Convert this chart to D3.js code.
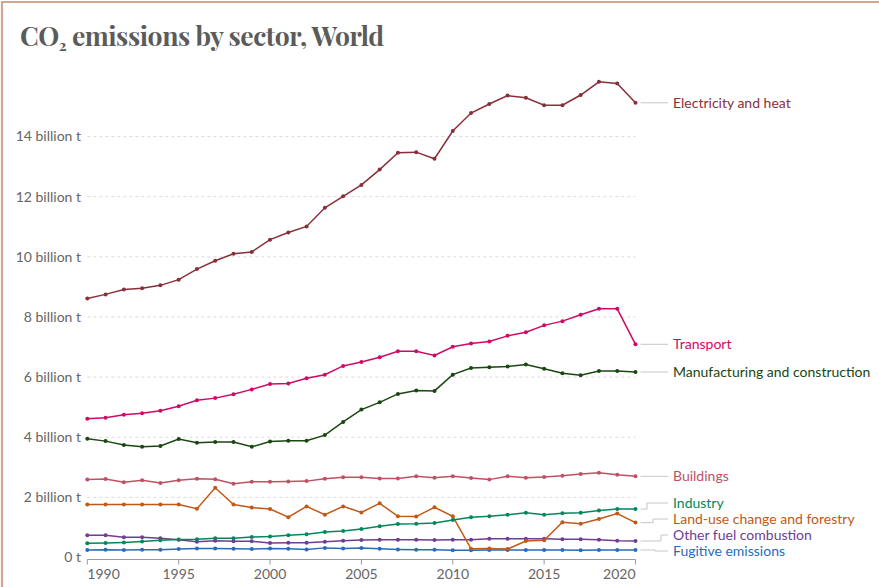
<!DOCTYPE html>
<html><head><meta charset="utf-8">
<script src="https://cdn.jsdelivr.net/npm/d3@7"></script>
<style>body{margin:0;background:#fff}svg{display:block}</style>
</head><body>
<svg id="c" width="879" height="587"></svg>
<script>
const years = d3.range(1990, 2021);
const electricity = [8.61,8.75,8.91,8.95,9.05,9.24,9.59,9.87,10.10,10.16,10.57,10.81,11.01,11.63,12.01,12.39,12.90,13.46,13.48,13.26,14.18,14.78,15.08,15.36,15.29,15.04,15.04,15.38,15.82,15.76,15.12];
const transport = [4.61,4.65,4.75,4.80,4.88,5.03,5.23,5.30,5.43,5.59,5.77,5.79,5.96,6.08,6.37,6.50,6.66,6.86,6.86,6.72,7.01,7.12,7.18,7.37,7.49,7.72,7.86,8.07,8.27,8.27,7.09];
const manufacturing = [3.95,3.87,3.74,3.68,3.71,3.94,3.82,3.84,3.84,3.68,3.86,3.88,3.88,4.07,4.51,4.92,5.16,5.44,5.55,5.54,6.08,6.30,6.33,6.35,6.42,6.28,6.13,6.06,6.20,6.20,6.17];
const buildings = [2.59,2.61,2.50,2.57,2.48,2.57,2.62,2.60,2.45,2.52,2.52,2.53,2.54,2.62,2.67,2.67,2.63,2.63,2.70,2.65,2.70,2.64,2.59,2.70,2.65,2.68,2.72,2.78,2.82,2.75,2.70];
const industry = [0.47,0.48,0.50,0.53,0.57,0.60,0.61,0.64,0.64,0.68,0.70,0.74,0.77,0.85,0.88,0.95,1.04,1.11,1.12,1.15,1.25,1.34,1.37,1.42,1.49,1.42,1.47,1.49,1.56,1.61,1.61];
const landUse = [1.76,1.76,1.76,1.76,1.76,1.76,1.62,2.32,1.76,1.66,1.61,1.34,1.70,1.42,1.70,1.50,1.80,1.37,1.36,1.67,1.37,0.29,0.30,0.28,0.55,0.57,1.17,1.12,1.28,1.46,1.16];
const otherFuel = [0.74,0.74,0.67,0.67,0.64,0.59,0.52,0.56,0.54,0.54,0.48,0.49,0.49,0.52,0.56,0.58,0.59,0.59,0.59,0.58,0.59,0.59,0.62,0.62,0.62,0.62,0.61,0.61,0.59,0.56,0.55];
const fugitive = [0.25,0.26,0.25,0.26,0.26,0.28,0.30,0.30,0.29,0.28,0.30,0.29,0.27,0.32,0.30,0.32,0.29,0.27,0.26,0.26,0.24,0.24,0.25,0.25,0.25,0.25,0.25,0.24,0.25,0.25,0.25];
const seriesNames = ["Electricity and heat","Transport","Manufacturing and construction","Buildings","Industry","Land-use change and forestry","Other fuel combustion","Fugitive emissions"];
const seriesColors = ["#883039","#CF0A66","#18470F","#C15065","#00875E","#C05917","#6D3E91","#286BBB"];
const yTicks = [0,2,4,6,8,10,12,14];
const xTicks = [1990,1995,2000,2005,2010,2015,2020];

const seriesValues = [electricity,transport,manufacturing,buildings,industry,landUse,otherFuel,fugitive];
const series = seriesNames.map((n,i)=>({name:n,color:seriesColors[i],values:seriesValues[i].map((v,j)=>({year:years[j],v}))}));

const svg = d3.select("#c");
const font = "Lato, 'Noto Sans', sans-serif";
const fs = 14;
const x = d3.scaleLinear().domain([1990,2020]).range([87.3,635.5]);
const y = d3.scaleLinear().domain([0,14]).range([557.5,136.5]);

// frame
svg.append("path").attr("d","M2,587V2H879").attr("fill","none").attr("stroke","#d2a791").attr("stroke-width",2.2);

// title
const t = svg.append("text").attr("x",20).attr("y",46).attr("fill","#5b5b5b")
  .attr("font-family","'Playfair Display', 'Liberation Serif', 'DejaVu Serif', serif").attr("font-weight","bold")
  .attr("font-size",26.5).attr("letter-spacing",-0.45);
t.append("tspan").text("CO");
t.append("tspan").text("2").attr("font-size",15).attr("dy",5);
t.append("tspan").text(" emissions by sector, World").attr("dy",-5);

// grid + y labels
const g = svg.append("g");
yTicks.forEach(v=>{
  if(v>0) g.append("line").attr("x1",x(1990)).attr("x2",x(2020)).attr("y1",y(v)).attr("y2",y(v))
    .attr("stroke","#dcdcdc").attr("stroke-dasharray","3,3").attr("stroke-width",1);
  g.append("text").attr("x",81).attr("y",y(v)).attr("dy","0.35em").attr("text-anchor","end")
    .attr("font-family",font).attr("font-size",fs).attr("fill","#666").text(v===0?"0 t":v+" billion t");
});

// x axis
const ay = 559.5;
g.append("line").attr("x1",x(1990)).attr("x2",x(2020)).attr("y1",ay).attr("y2",ay).attr("stroke","#999");
xTicks.forEach((yr,i)=>{
  g.append("line").attr("x1",x(yr)).attr("x2",x(yr)).attr("y1",ay).attr("y2",ay+5).attr("stroke","#999");
  const anchor = i===0?"start":(i===xTicks.length-1?"end":"middle");
  g.append("text").attr("x",x(yr)).attr("y",579).attr("text-anchor",anchor)
    .attr("font-family",font).attr("font-size",fs).attr("fill","#666").text(yr);
});

// lines
const line = d3.line().x(d=>x(d.year)).y(d=>y(d.v));
series.slice().reverse().forEach(s=>{
  svg.append("path").datum(s.values).attr("d",line).attr("fill","none").attr("stroke",s.color).attr("stroke-width",1.5);
  svg.selectAll(null).data(s.values).enter().append("circle").attr("cx",d=>x(d.year)).attr("cy",d=>y(d.v)).attr("r",2).attr("fill",s.color);
});

// labels with collision avoidance
const labels = series.map(s=>({s, y0:y(s.values[s.values.length-1].v)}));
labels.sort((a,b)=>a.y0-b.y0);
labels.forEach(l=>l.y=l.y0);
const gap = 16, maxY = 551;
for(let i=1;i<labels.length;i++) if(labels[i].y < labels[i-1].y+gap) labels[i].y = labels[i-1].y+gap;
for(let i=labels.length-1;i>=0;i--){
  const lim = i===labels.length-1?maxY:labels[i+1].y-gap;
  if(labels[i].y>lim) labels[i].y=lim;
}
const xEnd = x(2020);
const stepX = {"Industry":647,"Land-use change and forestry":653,"Other fuel combustion":661};
labels.forEach(l=>{
  const sx = stepX[l.s.name] || 655;
  const path = Math.abs(l.y-l.y0)<1 ? `M${xEnd+5},${l.y0}H${668}` : `M${xEnd+5},${l.y0}H${sx}V${l.y}H${668}`;
  svg.append("path").attr("d",path).attr("fill","none").attr("stroke","#c6c6c6").attr("stroke-width",1);
  svg.append("text").attr("x",673).attr("y",l.y).attr("dy","0.35em").attr("font-family",font).attr("font-size",fs)
    .attr("fill",l.s.color).text(l.s.name);
});
</script>
</body></html>
